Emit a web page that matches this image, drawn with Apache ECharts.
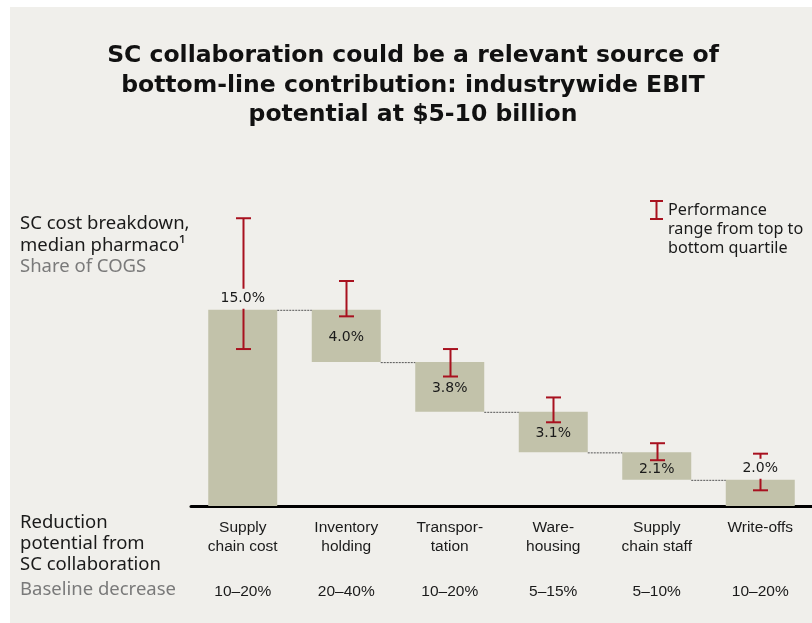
<!DOCTYPE html>
<html>
<head>
<meta charset="utf-8">
<script src="https://cdn.jsdelivr.net/npm/echarts@6/dist/echarts.min.js"></script>
<style>
html,body{margin:0;padding:0;background:#fff;}
#chart{width:812px;height:623px;}
</style>
</head>
<body>
<div id="chart"></div>
<script>
// ---- data ----
const categories = ['Supply\nchain cost', 'Inventory\nholding', 'Transpor-\ntation', 'Ware-\nhousing', 'Supply\nchain staff', 'Write-offs'];
const values = [15.0, 4.0, 3.8, 3.1, 2.1, 2.0];
const rangeHigh = [22.0, 17.2, 12.0, 8.3, 4.8, 4.0];
const rangeLow = [12.0, 14.5, 9.9, 6.4, 3.5, 1.2];
const baselineDecrease = ['10–20%', '20–40%', '10–20%', '5–15%', '5–10%', '10–20%'];
const titleLines = ['SC collaboration could be a relevant source of', 'bottom-line contribution: industrywide EBIT', 'potential at $5-10 billion'];

// waterfall geometry derived from values
const tops = [], bases = [];
for (let i = 0; i < values.length; i++) {
  const top = i <= 1 ? values[0] : bases[i - 1];
  tops.push(top);
  bases.push(i === 0 ? 0 : +(top - values[i]).toFixed(2));
}

const BG = '#f0efeb';
const BAR = '#c2c2aa';
const RED = '#a8111f';
const BARW = 69;
const TXT = '"Noto Sans", sans-serif';

const chart = echarts.init(document.getElementById('chart'));
const option = {
  backgroundColor: '#ffffff',
  animation: false,
  grid: { left: 191, width: 623, top: 179, bottom: 117 },
  xAxis: [{
    type: 'category', data: categories, position: 'bottom',
    axisLine: { lineStyle: { color: '#000', width: 3 } },
    axisTick: { show: false },
    axisLabel: { fontFamily: '"Liberation Sans Narrow", "Liberation Sans", sans-serif', fontSize: 15.5, color: '#1a1a1a', lineHeight: 19, margin: 12, interval: 0 }
  }, {
    type: 'category', data: baselineDecrease, position: 'bottom',
    axisLine: { show: false }, axisTick: { show: false },
    axisLabel: { fontFamily: '"Liberation Sans Narrow", "Liberation Sans", sans-serif', fontSize: 15.5, color: '#1a1a1a', margin: 78, interval: 0 }
  }],
  yAxis: { type: 'value', min: 0, max: 25, show: false, splitLine: { show: false } },
  series: [
    { type: 'bar', stack: 'w', data: bases, barWidth: BARW, itemStyle: { color: 'rgba(0,0,0,0)' }, silent: true, z: 2 },
    { type: 'bar', stack: 'w', data: values, barWidth: BARW, itemStyle: { color: BAR }, z: 2 },
    { // dotted connectors
      type: 'custom', z: 3,
      data: tops.slice(1).map((t, i) => [i, t]),
      renderItem: function (params, api) {
        const i = api.value(0);
        const p1 = api.coord([i, api.value(1)]);
        const p2 = api.coord([i + 1, api.value(1)]);
        return { type: 'line', shape: { x1: p1[0] + BARW / 2, y1: p1[1] + 0.5, x2: p2[0] - BARW / 2, y2: p2[1] + 0.5 },
          style: { stroke: '#555', lineWidth: 1, lineDash: [2, 1] } };
      }
    },
    { // error bars
      type: 'custom', z: 4,
      data: rangeLow.map((l, i) => [i, l, rangeHigh[i]]),
      renderItem: function (params, api) {
        const i = api.value(0);
        const lo = api.coord([i, api.value(1)]);
        const hi = api.coord([i, api.value(2)]);
        const x = Math.round(lo[0]) + 0.5, h = 7.5;
        const st = { stroke: RED, lineWidth: 2 };
        return { type: 'group', children: [
          { type: 'line', shape: { x1: x, y1: hi[1], x2: x, y2: lo[1] }, style: st },
          { type: 'line', shape: { x1: x - h, y1: hi[1], x2: x + h, y2: hi[1] }, style: st },
          { type: 'line', shape: { x1: x - h, y1: lo[1], x2: x + h, y2: lo[1] }, style: st }
        ] };
      }
    },
    { // value labels
      type: 'custom', z: 5,
      data: values.map((v, i) => [i, v, tops[i], bases[i]]),
      renderItem: function (params, api) {
        const i = api.value(0);
        const v = api.value(1);
        const top = api.coord([i, api.value(2)]);
        const bot = api.coord([i, api.value(3)]);
        const outside = (i === 0 || i === values.length - 1);
        let y = outside ? top[1] - 11 : (top[1] + bot[1]) / 2 + 1.5;
        if (!outside && bot[1] - top[1] < 32) y = bot[1] - 10;
        const style = { text: v.toFixed(1) + '%', x: top[0], y: y, align: 'center', verticalAlign: 'middle',
          fill: '#1a1a1a', font: '14px "DejaVu Sans", sans-serif' };
        if (outside) { style.backgroundColor = BG; style.padding = [3, 2]; }
        return { type: 'text', style: style };
      }
    }
  ],
  graphic: [
    { type: 'rect', z: -10, silent: true, shape: { x: 10, y: 7, width: 802, height: 616 }, style: { fill: BG } },
    { type: 'text', z: 10, style: { text: titleLines[0], x: 413, y: 56, align: 'center', verticalAlign: 'middle', fill: '#111', font: 'bold 23.5px "DejaVu Sans", sans-serif' } },
    { type: 'text', z: 10, style: { text: titleLines[1], x: 413, y: 86, align: 'center', verticalAlign: 'middle', fill: '#111', font: 'bold 23.5px "DejaVu Sans", sans-serif' } },
    { type: 'text', z: 10, style: { text: titleLines[2], x: 413, y: 115, align: 'center', verticalAlign: 'middle', fill: '#111', font: 'bold 23.5px "DejaVu Sans", sans-serif' } },
    { type: 'text', z: 10, style: { text: 'SC cost breakdown,\nmedian pharmaco¹', x: 20, y: 212, lineHeight: 22.5, fill: '#1a1a1a', font: '18.5px ' + TXT } },
    { type: 'text', z: 10, style: { text: 'Share of COGS', x: 20, y: 257, fill: '#7a7a7a', font: '18.5px ' + TXT } },
    { type: 'text', z: 10, style: { text: 'Reduction\npotential from\nSC collaboration', x: 20, y: 512, lineHeight: 21, fill: '#1a1a1a', font: '18.5px ' + TXT } },
    { type: 'text', z: 10, style: { text: 'Baseline decrease', x: 20, y: 580, fill: '#7a7a7a', font: '18.5px ' + TXT } },
    // legend glyph
    { type: 'line', z: 10, shape: { x1: 656.5, y1: 201, x2: 656.5, y2: 219 }, style: { stroke: RED, lineWidth: 2 } },
    { type: 'line', z: 10, shape: { x1: 650, y1: 201, x2: 663, y2: 201 }, style: { stroke: RED, lineWidth: 2 } },
    { type: 'line', z: 10, shape: { x1: 650, y1: 219, x2: 663, y2: 219 }, style: { stroke: RED, lineWidth: 2 } },
    { type: 'text', z: 10, style: { text: 'Performance\nrange from top to\nbottom quartile', x: 668, y: 201, lineHeight: 19, fill: '#1a1a1a', font: '16.2px ' + TXT } }
  ]
};
chart.setOption(option);
</script>
</body>
</html>
